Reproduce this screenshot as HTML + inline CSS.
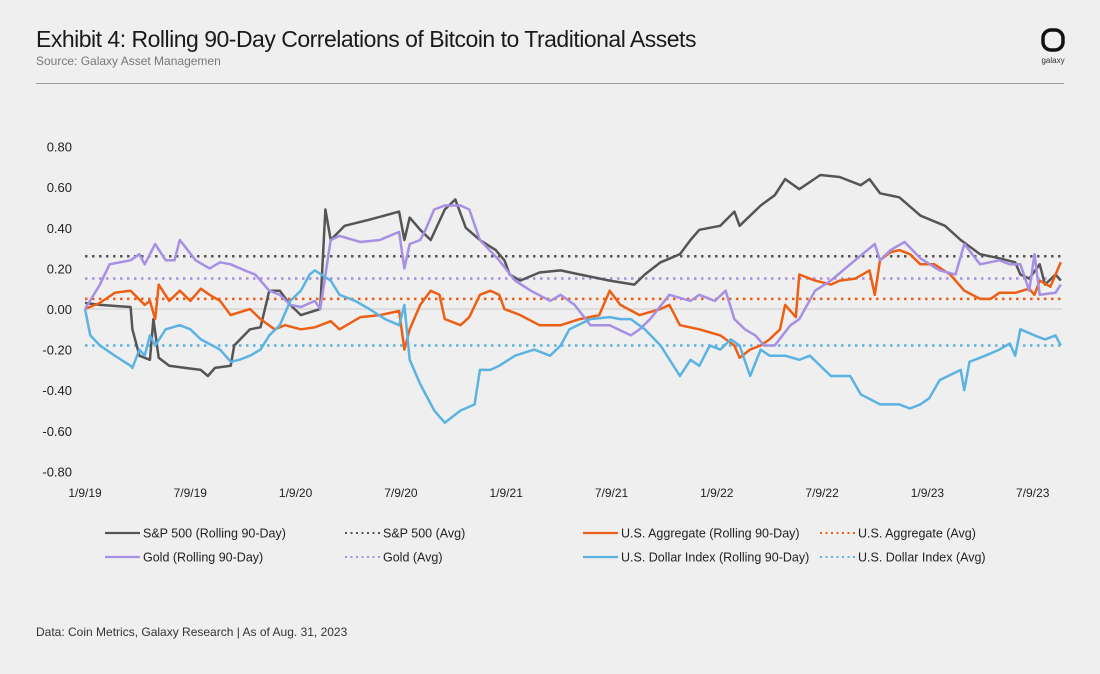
<!DOCTYPE html>
<html><head><meta charset="utf-8"><style>
body{margin:0;background:#efefef;font-family:"Liberation Sans",sans-serif;}
#wrap{position:relative;width:1100px;height:674px;overflow:hidden;background:#efefef;}
</style></head><body>
<div id="wrap">
<svg id="svg" width="1100" height="674" viewBox="0 0 1100 674" xmlns="http://www.w3.org/2000/svg">
<text x="36" y="47" font-size="23" fill="#1a1a1a" font-family="Liberation Sans, sans-serif" letter-spacing="-0.5">Exhibit 4: Rolling 90-Day Correlations of Bitcoin to Traditional Assets</text>
<text x="36" y="65" font-size="12" fill="#777" font-family="Liberation Sans, sans-serif">Source: Galaxy Asset Managemen</text>
<line x1="36" y1="83.5" x2="1064" y2="83.5" stroke="#999" stroke-width="1"/>
<g>
<rect x="1043" y="30" width="20" height="20" rx="8" fill="none" stroke="#111" stroke-width="3.5"/>
<text x="1053" y="63" font-size="8" text-anchor="middle" fill="#333" font-family="Liberation Sans, sans-serif">galaxy</text>
</g>
<g id="axes"></g>
<g id="avgs"></g>
<g id="series"></g>
<g id="legend"></g>
<text x="36" y="636" font-size="12" fill="#333" font-family="Liberation Sans, sans-serif">Data: Coin Metrics, Galaxy Research | As of Aug. 31, 2023</text>
</svg>
</div>
<script>
// months since 1/9/19
const yTicks = [0.8,0.6,0.4,0.2,0,-0.2,-0.4,-0.6,-0.8];
const yTickLabels = ["0.80","0.60","0.40","0.20","0.00","-0.20","-0.40","-0.60","-0.80"];
const xTickMonths = [0,6,12,18,24,30,36,42,48,54];
const xTickLabels = ["1/9/19","7/9/19","1/9/20","7/9/20","1/9/21","7/9/21","1/9/22","7/9/22","1/9/23","7/9/23"];

const spxMonths = [0,0.85,2.6,2.7,3.1,3.7,3.9,4.2,4.8,5.7,6.6,7.0,7.4,8.3,8.5,9.4,10.0,10.5,11.1,11.7,12.3,13.4,13.7,14.0,14.8,16.2,17.9,18.2,18.5,19.1,19.7,20.5,21.1,21.7,22.5,23.4,23.9,24.2,24.8,25.9,27.1,28.2,29.9,31.3,31.9,32.8,33.9,34.5,35.0,36.2,37.0,37.3,38.5,39.3,39.9,40.7,41.9,43.0,44.2,44.7,45.3,46.4,47.6,49.0,49.9,51.0,52.1,53.0,53.3,53.8,54.4,54.7,55.3,55.6];
const spxValues = [0.03,0.02,0.01,-0.10,-0.23,-0.25,-0.05,-0.24,-0.28,-0.29,-0.30,-0.33,-0.29,-0.28,-0.18,-0.10,-0.09,0.09,0.09,0.02,-0.03,0,0.49,0.34,0.41,0.44,0.48,0.34,0.45,0.39,0.34,0.49,0.54,0.40,0.34,0.29,0.24,0.17,0.14,0.18,0.19,0.17,0.14,0.12,0.17,0.23,0.27,0.34,0.39,0.41,0.48,0.41,0.51,0.56,0.64,0.59,0.66,0.65,0.61,0.64,0.57,0.55,0.46,0.41,0.34,0.27,0.25,0.23,0.17,0.15,0.22,0.12,0.17,0.14];

const goldMonths = [0,0.85,1.4,2.6,3.1,3.4,4.0,4.6,5.1,5.4,6.3,7.1,7.7,8.3,9.1,9.7,10.5,11.1,11.7,12.3,13.1,13.4,14.0,14.5,15.7,16.8,17.9,18.2,18.5,19.1,19.4,19.9,20.5,21.4,21.9,22.5,23.6,24.5,25.4,26.5,27.1,27.9,28.8,29.9,31.1,31.6,32.2,33.3,34.5,35.0,35.9,36.5,37.0,37.6,38.2,38.7,39.3,40.2,40.7,41.6,42.5,43.6,45.0,45.3,45.9,46.7,47.6,48.7,49.6,50.1,51.0,52.1,52.7,53.3,53.8,54.1,54.4,55.3,55.6];
const goldValues = [0,0.12,0.22,0.24,0.27,0.22,0.32,0.24,0.24,0.34,0.24,0.20,0.23,0.22,0.19,0.17,0.09,0.07,0.02,0.01,0.04,0,0.34,0.36,0.33,0.34,0.38,0.20,0.32,0.34,0.39,0.49,0.51,0.51,0.49,0.34,0.24,0.14,0.09,0.04,0.07,0.02,-0.08,-0.08,-0.13,-0.10,-0.05,0.07,0.04,0.07,0.04,0.09,-0.05,-0.10,-0.13,-0.18,-0.18,-0.08,-0.05,0.09,0.14,0.22,0.32,0.24,0.29,0.33,0.25,0.19,0.17,0.32,0.22,0.24,0.22,0.22,0.09,0.27,0.07,0.08,0.12];

const aggMonths = [0,0.85,1.7,2.6,3.4,3.7,4.0,4.2,4.8,5.4,6.0,6.6,7.1,7.7,8.3,9.4,10.0,10.8,11.4,12.3,13.1,14.0,14.5,15.7,16.8,17.9,18.2,18.5,19.1,19.7,20.2,20.5,21.4,21.9,22.5,23.1,23.6,23.9,24.8,25.9,27.1,28.2,29.3,29.9,30.5,31.6,32.8,33.3,33.9,35.0,36.2,37.0,37.3,37.9,38.5,39.0,39.6,39.9,40.5,40.7,41.6,42.5,43.0,43.9,44.7,45.0,45.3,45.9,46.4,47.0,47.6,48.4,49.3,50.1,51.0,51.6,52.1,53.0,53.8,54.1,54.4,55.0,55.6];
const aggValues = [0,0.03,0.08,0.09,0.02,0.04,-0.05,0.12,0.04,0.09,0.04,0.10,0.07,0.04,-0.03,0,-0.05,-0.10,-0.08,-0.10,-0.09,-0.06,-0.10,-0.04,-0.03,-0.01,-0.20,-0.10,0.02,0.09,0.07,-0.05,-0.08,-0.04,0.07,0.09,0.07,0,-0.03,-0.08,-0.08,-0.05,-0.03,0.09,0.02,-0.03,0,0.02,-0.08,-0.10,-0.13,-0.18,-0.24,-0.20,-0.18,-0.15,-0.10,0.02,-0.04,0.17,0.14,0.12,0.14,0.15,0.19,0.07,0.24,0.28,0.29,0.27,0.22,0.22,0.17,0.09,0.05,0.05,0.08,0.08,0.10,0.07,0.14,0.11,0.23];

const usdMonths = [0,0.3,0.85,1.7,2.6,2.7,3.1,3.4,3.7,4.0,4.6,5.4,6.0,6.6,7.7,8.3,8.8,9.4,10.0,10.5,11.1,11.7,12.3,12.8,13.1,14.0,14.5,15.4,16.2,17.1,17.9,18.2,18.5,19.1,19.9,20.5,21.4,22.2,22.5,23.1,23.6,24.5,25.6,26.5,27.1,27.6,28.8,29.9,30.5,31.1,31.9,32.8,33.9,34.5,35.0,35.6,36.2,36.8,37.3,37.9,38.5,39.0,39.9,40.7,41.3,42.5,43.6,44.2,45.3,46.4,47.0,47.6,48.1,48.7,49.9,50.1,50.4,51.3,52.1,52.7,53.0,53.3,54.1,54.7,55.3,55.6];
const usdValues = [0,-0.13,-0.18,-0.23,-0.28,-0.29,-0.20,-0.23,-0.13,-0.18,-0.10,-0.08,-0.10,-0.15,-0.20,-0.26,-0.25,-0.23,-0.20,-0.13,-0.08,0.04,0.09,0.17,0.19,0.14,0.07,0.04,0,-0.05,-0.08,0.02,-0.25,-0.37,-0.50,-0.56,-0.50,-0.47,-0.30,-0.30,-0.28,-0.23,-0.20,-0.23,-0.18,-0.10,-0.05,-0.04,-0.05,-0.05,-0.10,-0.18,-0.33,-0.25,-0.28,-0.18,-0.20,-0.15,-0.18,-0.33,-0.20,-0.23,-0.23,-0.25,-0.23,-0.33,-0.33,-0.42,-0.47,-0.47,-0.49,-0.47,-0.44,-0.35,-0.30,-0.40,-0.26,-0.23,-0.20,-0.17,-0.23,-0.10,-0.13,-0.15,-0.13,-0.18];

const avgNames = ["spx","gold","agg","usd"];
const avgValues = [0.26,0.15,0.05,-0.18];

const NS="http://www.w3.org/2000/svg";
const X0=85, PX_PER_MONTH=17.55, Y0=309, PX_PER_UNIT=203;
const xScale = m => X0 + m*PX_PER_MONTH;
const yScale = v => Y0 - v*PX_PER_UNIT;
const colors = {spx:"#555555",gold:"#a78fe3",agg:"#ec5f14",usd:"#5cb3e2"};
function mk(tag, attrs, parent){const e=document.createElementNS(NS,tag);for(const k in attrs)e.setAttribute(k,attrs[k]);parent.appendChild(e);return e;}
const axes=document.getElementById('axes');
yTicks.forEach((v,i)=>{
  const t=mk('text',{x:72,y:yScale(v)+5,'text-anchor':'end','font-size':13,fill:'#222','font-family':'Liberation Sans, sans-serif'},axes);
  t.textContent=yTickLabels[i];
  
  
});
const zl=mk('line',{x1:X0,x2:1062,y1:yScale(0),y2:yScale(0),stroke:'#c8c8c8','stroke-width':1},axes);


xTickMonths.forEach((m,i)=>{
  const t=mk('text',{x:xScale(m),y:497,'text-anchor':'middle','font-size':12,fill:'#222','font-family':'Liberation Sans, sans-serif'},axes);
  t.textContent=xTickLabels[i];
  
  
});
const avgs=document.getElementById('avgs');
avgNames.forEach((n,i)=>{
  const l=mk('line',{x1:X0,x2:1062,y1:yScale(avgValues[i]),y2:yScale(avgValues[i]),stroke:colors[n],'stroke-width':2.5,'stroke-dasharray':'2.5 4.5'},avgs);
  
  
});
const series=document.getElementById('series');
[["spx",spxMonths,spxValues],["agg",aggMonths,aggValues],["gold",goldMonths,goldValues],["usd",usdMonths,usdValues]].forEach(([n,ms,vs])=>{
  const d=ms.map((m,i)=>(i?'L':'M')+xScale(m).toFixed(1)+','+yScale(vs[i]).toFixed(1)).join(' ');
  const p=mk('path',{d:d,fill:'none',stroke:colors[n],'stroke-width':2.5,'stroke-linejoin':'round'},series);
  
  
});
const legend=document.getElementById('legend');
const legItems=[
 [105,533,"spx",false,"S&P 500 (Rolling 90-Day)"],[345,533,"spx",true,"S&P 500 (Avg)"],
 [583,533,"agg",false,"U.S. Aggregate (Rolling 90-Day)"],[820,533,"agg",true,"U.S. Aggregate (Avg)"],
 [105,557,"gold",false,"Gold (Rolling 90-Day)"],[345,557,"gold",true,"Gold (Avg)"],
 [583,557,"usd",false,"U.S. Dollar Index (Rolling 90-Day)"],[820,557,"usd",true,"U.S. Dollar Index (Avg)"]];
legItems.forEach(([x,y,n,dot,label])=>{
  const g=mk('g',{},legend);
  
  
  mk('line',{x1:x,x2:x+35,y1:y,y2:y,stroke:colors[n],'stroke-width':dot?2:2.2,'stroke-dasharray':dot?'2 3.5':'none'},g);
  const t=mk('text',{x:x+38,y:y+4.5,'font-size':12.5,fill:'#222','font-family':'Liberation Sans, sans-serif'},g);
  t.textContent=label;
});
</script>
</body></html>
